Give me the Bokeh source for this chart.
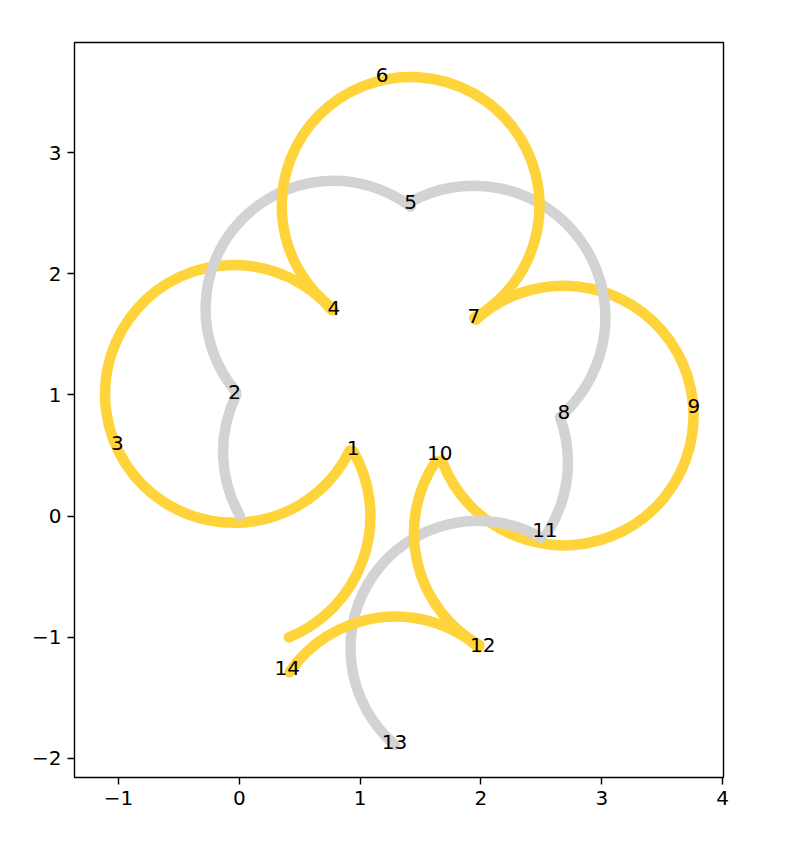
import numpy as np
from bokeh.plotting import figure
from bokeh.models import Range1d, FixedTicker, CustomJSTickFormatter
from bokeh.core.properties import value
from bokeh.embed import file_html
from bokeh.resources import INLINE

# ---- data ----
# yellow arcs: centre, radius, start / end angle (degrees), direction
yellow_cx = [0.0, -0.045, 1.418, 2.685, 2.51, 1.29]
yellow_cy = [0.0, 1.008, 2.56, 0.83, -0.14, -1.885]
yellow_r = [1.085, 1.067, 1.067, 1.075, 1.065, 1.06]
yellow_start = [-67.8, -26.0, -126.9, 132.6, 146.1, 49.25]
yellow_end = [29.6, 40.4, -60.4, -159.8, -119.4, 145.65]
yellow_dir = ["anticlock", "clock", "clock", "clock", "anticlock", "anticlock"]

# gray arcs
gray_cx = [0.935, 0.78, 1.94, 1.64, 1.975]
gray_cy = [0.53, 1.71, 1.64, 0.445, -1.09]
gray_r = [1.07, 1.06, 1.09, 1.08, 1.055]
gray_start = [-150.5, -139.6, 119.6, 20.2, 60.2]
gray_end = [154.0, 53.1, -47.4, -32.4, -130.75]
gray_dir = ["clock", "clock", "clock", "clock", "anticlock"]

# numbered points
label_x = [0.942, -0.039, -1.011, 0.782, 1.417, 1.182, 1.941,
           2.686, 3.762, 1.659, 2.529, 2.015, 1.285, 0.396]
label_y = [0.545, 1.006, 0.584, 1.702, 2.574, 3.621, 1.634,
           0.842, 0.888, 0.506, -0.130, -1.084, -1.878, -1.271]
label_text = [str(i) for i in range(1, 15)]

x_ticks = [-1, 0, 1, 2, 3, 4]
y_ticks = [-2, -1, 0, 1, 2, 3]

YELLOW = "#FFD43B"
GRAY = "#D3D3D3"

p = figure(frame_width=649, frame_height=735,
           x_range=Range1d(-1.365, 4.008), y_range=Range1d(-2.157, 3.908),
           output_backend="svg", toolbar_location=None,
           min_border_left=74, min_border_top=42, min_border_right=20,
           min_border_bottom=50)
p.grid.visible = False
p.outline_line_color = "black"
p.outline_line_width = 1.4
p.background_fill_color = "white"
p.border_fill_color = "white"

def draw(color, cx, cy, r, s, e, d):
    p.arc(x=[cx], y=[cy], radius=r, start_angle=s, end_angle=e,
          start_angle_units="deg", end_angle_units="deg", direction=d,
          line_color=color, line_width=10.5, line_cap="round")

# draw order (layering as in the reference)
sequence = [("y", 0), ("y", 1), ("y", 3), ("g", 0), ("g", 1), ("g", 2),
            ("g", 3), ("g", 4), ("y", 2), ("y", 4), ("y", 5)]
for kind, i in sequence:
    if kind == "y":
        draw(YELLOW, yellow_cx[i], yellow_cy[i], yellow_r[i],
             yellow_start[i], yellow_end[i], yellow_dir[i])
    else:
        draw(GRAY, gray_cx[i], gray_cy[i], gray_r[i],
             gray_start[i], gray_end[i], gray_dir[i])

p.text(x=label_x, y=label_y, text=label_text, text_align="center",
       text_baseline="middle", text_font=value("DejaVu Sans"),
       text_font_size="20px", text_color="black", y_offset=-2)

fmt = CustomJSTickFormatter(code="return (tick < 0 ? '\\u2212' : '') + Math.abs(tick).toFixed(0);")
for ax, ticks in ((p.xaxis, x_ticks), (p.yaxis, y_ticks)):
    ax.ticker = FixedTicker(ticks=ticks)
    ax.formatter = fmt
    ax.minor_tick_line_color = None
    ax.axis_line_color = None
    ax.major_tick_out = 7
    ax.major_tick_in = 0
    ax.major_tick_line_width = 1.4
    ax.major_tick_line_color = "black"
    ax.major_label_text_font = "DejaVu Sans"
    ax.major_label_text_font_size = "20px"
    ax.major_label_text_color = "black"
    ax.major_label_standoff = 6

open("out.html", "w").write(file_html(p, INLINE))
